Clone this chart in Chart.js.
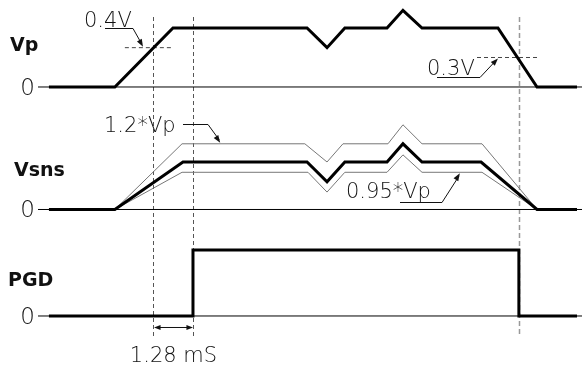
<!DOCTYPE html>
<html>
<head>
<meta charset="utf-8">
<script src="https://cdn.jsdelivr.net/npm/chart.js@4.4.1/dist/chart.umd.min.js"></script>
<style>
  html, body { margin: 0; padding: 0; background: #fff; }
  canvas { display: block; }
</style>
</head>
<body>
<canvas id="timing" width="582" height="368"></canvas>
<script>
// -------------------------
// TIMING DATA (time in ms, levels in V)
// -------------------------
const vpTime   = [0.35, 2.46, 4.32, 8.61, 9.25, 9.82, 11.17, 11.68, 12.29, 14.72, 15.97, 17.25];
const vpVolt   = [0,    0,    0.6,  0.6,  0.4,  0.6,  0.6,   0.78,  0.6,   0.6,   0,     0];

const vsnsTime = [0.35, 2.46, 4.64, 8.61, 9.25, 9.82, 11.17, 11.68, 12.29, 14.18, 15.97, 17.25];
const vsnsVolt = [0,    0,    0.6,  0.6,  0.35, 0.6,  0.6,   0.83,  0.6,   0.6,   0,     0];

// 1.2*Vp and 0.95*Vp window
const hiTime   = [2.46, 4.61, 8.54, 9.25, 9.76, 11.20, 11.68, 12.29, 14.21, 15.97];
const hiVolt   = [0,    0.83, 0.83, 0.6,  0.83, 0.83,  1.07,  0.83,  0.83,  0];
const loTime   = [2.46, 4.61, 8.64, 9.25, 9.82, 11.17, 11.68, 12.29, 14.21, 15.97];
const loVolt   = [0,    0.47, 0.47, 0.22, 0.47, 0.47,  0.69,  0.47,  0.47,  0];

const pgdTime  = [0.35, 4.96, 4.96, 15.39, 15.39, 17.25];
const pgdLevel = [0,    0,    1,    1,     0,     0];

// thresholds and markers
const riseLevelTime = [2.78, 4.32];   // 0.4V
const fallLevelTime = [14.05, 16.0];  // 0.3V
const markerTimes   = [3.68, 4.96, 15.39];
const delayLabel    = "1.28 mS";
const axisEnd       = 17.41;

const pts = (ts, vs) => ts.map((t, i) => ({ x: t, y: vs[i] }));

function line(data, yAxisID, color, width, dash) {
    return {
        data: data,
        yAxisID: yAxisID,
        borderColor: color,
        borderWidth: width,
        borderDash: dash || [],
        pointRadius: 0,
        tension: 0,
        fill: false,
        borderJoinStyle: 'miter'
    };
}

// -------------------------
// ANNOTATIONS
// -------------------------
function arrowHead(ctx, x1, y1, x2, y2, len) {
    const a = Math.atan2(y2 - y1, x2 - x1);
    ctx.beginPath();
    ctx.moveTo(x2, y2);
    ctx.lineTo(x2 - len * Math.cos(a - 0.35), y2 - len * Math.sin(a - 0.35));
    ctx.lineTo(x2 - len * Math.cos(a + 0.35), y2 - len * Math.sin(a + 0.35));
    ctx.closePath();
    ctx.fill();
}

function polyline(ctx, p) {
    ctx.beginPath();
    ctx.moveTo(p[0][0], p[0][1]);
    for (let i = 1; i < p.length; i++) ctx.lineTo(p[i][0], p[i][1]);
    ctx.stroke();
}

const markersPlugin = {
    id: 'markers',
    beforeDatasetsDraw(chart) {
        const ctx = chart.ctx;
        const x = chart.scales.x;
        ctx.save();
        markerTimes.forEach((t, i) => {
            const px = Math.round(x.getPixelForValue(t)) + 0.5;
            ctx.strokeStyle = i < 2 ? '#555' : '#999';
            ctx.lineWidth = i < 2 ? 1 : 1.5;
            ctx.setLineDash(i < 2 ? [4, 3] : [5, 3]);
            polyline(ctx, [[px, 17], [px, 337]]);
        });
        ctx.restore();
    },
    afterDatasetsDraw(chart) {
        const ctx = chart.ctx;
        const x = chart.scales.x;
        const yVp = chart.scales.yVp, ySns = chart.scales.ySns, yPgd = chart.scales.yPgd;
        ctx.save();
        ctx.fillStyle = '#111';
        ctx.strokeStyle = '#111';
        ctx.lineWidth = 1;

        // signal names
        ctx.font = 'bold 19px "DejaVu Sans"';
        ctx.textAlign = 'left';
        ctx.fillText('Vp', 10, 51);
        ctx.fillText('Vsns', 14, 176);
        ctx.fillText('PGD', 8, 286);

        // zero labels
        ctx.font = '200 23px "DejaVu Sans"';
        ctx.textAlign = 'right';
        [yVp, ySns, yPgd].forEach(s => {
            ctx.fillText('0', 35, s.getPixelForValue(0) + 8);
        });

        ctx.font = '200 21px "DejaVu Sans"';
        ctx.textAlign = 'left';
        // 0.4V
        let tx = x.getPixelForValue(3.36), ty = yVp.getPixelForValue(0.4) - 1;
        ctx.fillText('0.4V', 84, 27);
        polyline(ctx, [[105, 28.5], [133, 28.5], [tx - 2, ty - 4]]);
        arrowHead(ctx, 133, 28.5, tx, ty, 8);

        // 0.3V
        tx = x.getPixelForValue(14.72); ty = yVp.getPixelForValue(0.29);
        ctx.fillText('0.3V', 427, 75);
        polyline(ctx, [[437, 77.5], [480, 77.5], [tx - 2, ty + 2]]);
        arrowHead(ctx, 480, 77.5, tx, ty, 8);

        // 1.2*Vp
        tx = x.getPixelForValue(5.83); ty = ySns.getPixelForValue(0.83) - 1;
        ctx.fillText('1.2*Vp', 104, 132);
        polyline(ctx, [[183, 124.5], [208, 124.5], [tx - 1, ty - 3]]);
        arrowHead(ctx, 208, 124.5, tx, ty, 8);

        // 0.95*Vp
        tx = x.getPixelForValue(13.5); ty = ySns.getPixelForValue(0.47) + 1;
        ctx.fillText('0.95*Vp', 346, 198);
        polyline(ctx, [[400, 202.5], [442, 202.5], [tx - 1, ty + 3]]);
        arrowHead(ctx, 442, 202.5, tx, ty, 8);

        // delay between 0.4V crossing and PGD
        const x1 = x.getPixelForValue(markerTimes[0]) + 1, x2 = x.getPixelForValue(markerTimes[1]);
        const ay = yPgd.getPixelForValue(0) + 11.5;
        polyline(ctx, [[x1 + 3, ay], [x2 - 3, ay]]);
        arrowHead(ctx, x2, ay, x1, ay, 7);
        arrowHead(ctx, x1, ay, x2, ay, 7);
        ctx.textAlign = 'center';
        ctx.fillText(delayLabel, (x1 + x2) / 2, 362);
        ctx.restore();
    }
};

// -------------------------
// CHART
// -------------------------
const zero = [{ x: 0, y: 0 }, { x: axisEnd, y: 0 }];

new Chart(document.getElementById('timing'), {
    type: 'line',
    data: {
        datasets: [
            line(pts(vpTime, vpVolt), 'yVp', '#000', 3),
            line(pts(vsnsTime, vsnsVolt), 'ySns', '#000', 3),
            line(pts(pgdTime, pgdLevel), 'yPgd', '#000', 3),
            line(pts(hiTime, hiVolt), 'ySns', '#777', 1),
            line(pts(loTime, loVolt), 'ySns', '#777', 1),
            line(pts(riseLevelTime, [0.4, 0.4]), 'yVp', '#444', 1, [4, 3]),
            line(pts(fallLevelTime, [0.3, 0.3]), 'yVp', '#444', 1, [4, 3]),
            line(zero, 'yVp', '#000', 1),
            line(zero, 'ySns', '#000', 1),
            line(zero, 'yPgd', '#000', 1)
        ]
    },
    options: {
        responsive: false,
        animation: false,
        devicePixelRatio: 1,
        layout: { padding: { left: 38, right: 0, top: 0, bottom: 0 } },
        plugins: { legend: { display: false }, tooltip: { enabled: false } },
        scales: {
            x:    { type: 'linear', min: 0, max: axisEnd, display: false },
            yVp:  { type: 'linear', min: -2.8576, max: 0.8847, display: false },
            ySns: { type: 'linear', min: -2.0021, max: 2.6463, display: false },
            yPgd: { type: 'linear', min: -0.7879, max: 4.7879, display: false }
        }
    },
    plugins: [markersPlugin]
});
</script>
</body>
</html>
